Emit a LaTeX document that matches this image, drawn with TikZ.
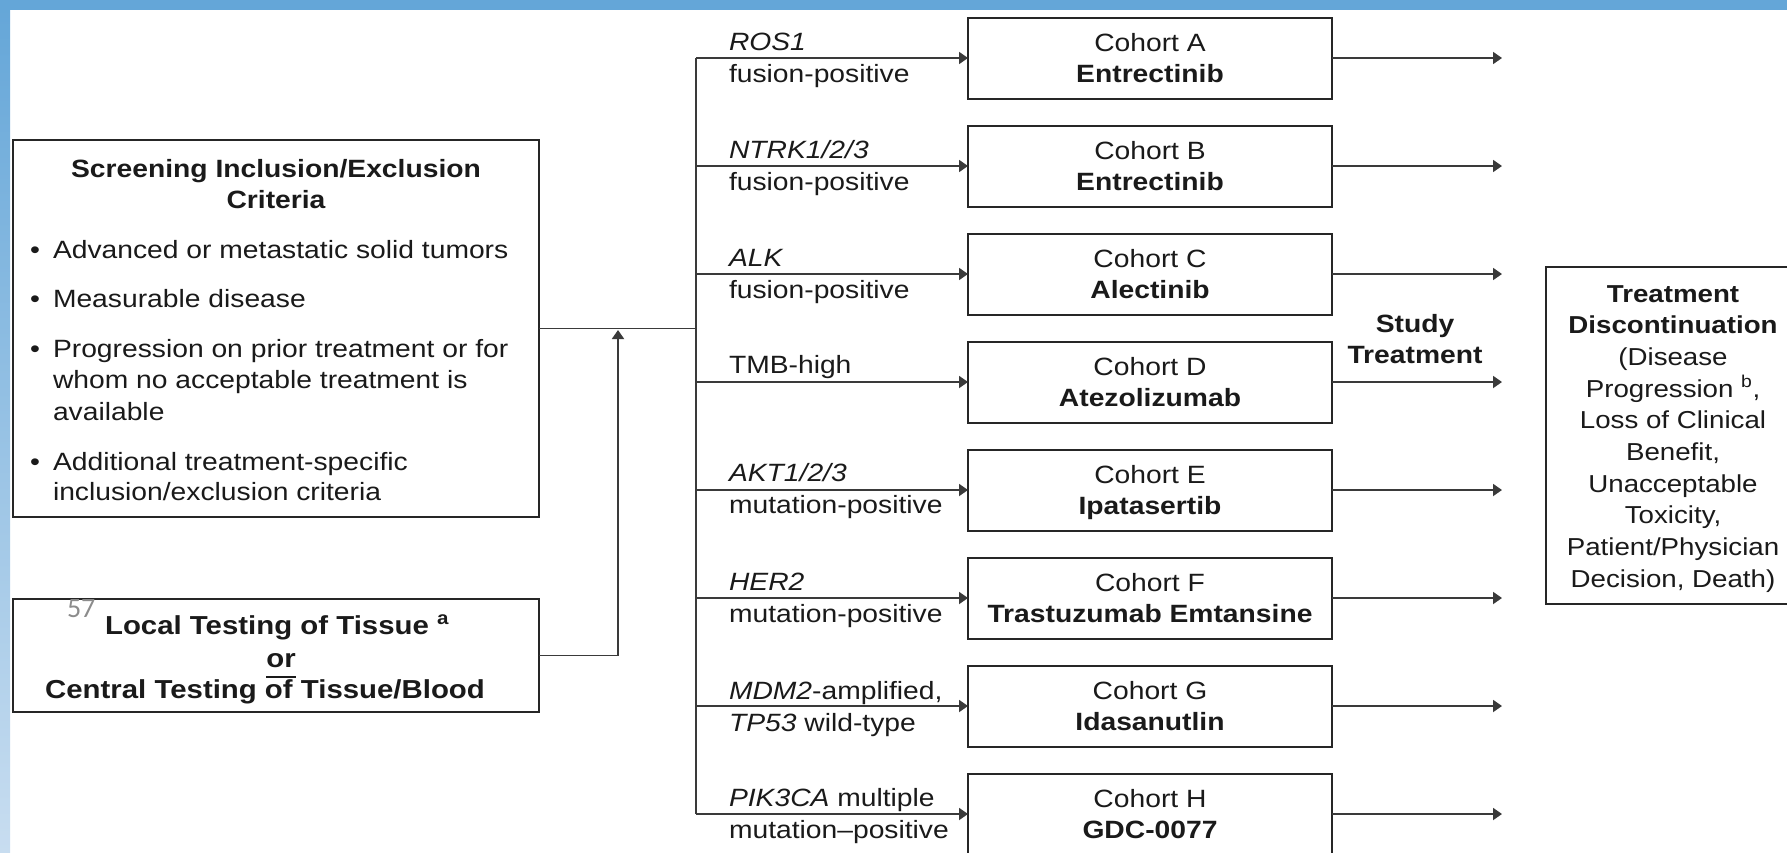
\documentclass[tikz,border=0pt]{standalone}
\usepackage{fontspec}
\setmainfont{Liberation Sans}[FakeStretch=1.13]
\newfontfamily\numfont{Carlito}
\usetikzlibrary{arrows.meta}
\definecolor{bandblue}{HTML}{64A6D8}
\definecolor{bandlight}{HTML}{C8DDF0}
\definecolor{linecol}{HTML}{3A3A3A}
\definecolor{boxcol}{HTML}{262626}
\definecolor{txt}{HTML}{1A1A1A}
\definecolor{pagenum}{HTML}{8C8C8C}
\newcommand\fsz{\fontsize{25}{31}\selectfont}
\newcommand\fszL{\fontsize{26}{31}\selectfont}
\newcommand\fszD{\fontsize{24.5}{31}\selectfont}
\newcommand\ulor[1]{\setbox0\hbox{#1}\rlap{\rule[-11pt]{\wd0}{2pt}}\box0}
\begin{document}
\begin{tikzpicture}[x=1pt,y=-1pt,
  every node/.style={inner sep=0pt,outer sep=0pt,text=txt},
  frame/.style={draw=boxcol,line width=2pt,rectangle},
  cbox/.style={frame,minimum width=364pt,minimum height=81pt,align=center,font=\fsz,text depth=0pt},
  lbl/.style={anchor=base west,font=\fsz},
  txtl/.style={anchor=base west,font=\fsz},
  txtc/.style={anchor=base,font=\fsz},
  wire/.style={draw=linecol,line width=1.8pt},
  arr/.style={wire,-{Triangle[length=9pt,width=12pt]}}]
\useasboundingbox (0,0) rectangle (1787,852);
\clip (0,0) rectangle (1787,852);
\fill[white] (0,0) rectangle (1787,852);
% slide bands
\shade[top color=bandblue,bottom color=bandlight] (0,0) rectangle (10,852);
\fill[bandblue] (0,0) rectangle (1787,10);

% screening box
\node[frame,minimum width=526pt,minimum height=377pt] (scr) at (276,328.5) {};
\node[txtc,font=\fsz\bfseries] (t1) at (276,177) {Screening Inclusion/Exclusion};
\node[txtc,font=\fsz\bfseries] (t2) at (276,208) {Criteria};
\node[txtl] (b1) at (30,258) {•};
\node[txtl] (b2) at (30,307) {•};
\node[txtl] (b3) at (30,357) {•};
\node[txtl] (b4) at (30,470) {•};
\node[txtl] (s1) at (53,258) {Advanced or metastatic solid tumors};
\node[txtl] (s2) at (53,307) {Measurable disease};
\node[txtl] (s3) at (53,357) {Progression on prior treatment or for};
\node[txtl] (s4) at (53,388) {whom no acceptable treatment is};
\node[txtl] (s5) at (53,420) {available};
\node[txtl] (s6) at (53,470) {Additional treatment-specific};
\node[txtl] (s7) at (53,500) {inclusion/exclusion criteria};

% local testing box
\node[frame,minimum width=526pt,minimum height=113pt] (loc) at (276,655.5) {};
\node[txtc,font=\fszL\bfseries] (lt1) at (277,634) {Local Testing of Tissue \textsuperscript{a}};
\node[txtc,font=\fszL\bfseries] (lt2) at (281,667) {\ulor{or}};
\node[txtc,font=\fszL\bfseries] (lt3) at (265,698) {Central Testing of Tissue/Blood};
\node[anchor=base west,text=pagenum] (pg) at (67,617) {\numfont\fontsize{28}{28}\selectfont 57};

% branching
\coordinate (j) at (696,328.5);
\coordinate (vtop) at (696,58);
\coordinate (vbot) at (696,814);
\coordinate (up) at (618,330);
\coordinate (outx) at (1502,0);
\draw[wire] (scr.east) -- (j);
\draw[wire] (vtop) -- (vbot);
\draw[arr] (loc.east) -| (up);

% cohorts
\foreach \k/\Y/\drug in {A/58/Entrectinib,B/166/Entrectinib,C/274/Alectinib,D/382/Atezolizumab,E/490/Ipatasertib,F/598/Trastuzumab Emtansine,G/706/Idasanutlin,H/814/GDC-0077}{
  \node[cbox] (c\k) at (1150,\Y) {Cohort \k\\\textbf{\drug}};
  \draw[arr] (vtop |- c\k.west) -- (c\k.west);
  \draw[arr] (c\k.east) -- (c\k.east -| outx);
}

% branch labels
\node[lbl] (la1) at (729,50) {\textit{ROS1}};
\node[lbl] (la2) at (729,82) {fusion-positive};
\node[lbl] (lb1) at (729,158) {\textit{NTRK1/2/3}};
\node[lbl] (lb2) at (729,190) {fusion-positive};
\node[lbl] (lc1) at (729,266) {\textit{ALK}};
\node[lbl] (lc2) at (729,298) {fusion-positive};
\node[lbl] (ld1) at (729,373) {TMB-high};
\node[lbl] (le1) at (729,481) {\textit{AKT1/2/3}};
\node[lbl] (le2) at (729,513) {mutation-positive};
\node[lbl] (lf1) at (729,590) {\textit{HER2}};
\node[lbl] (lf2) at (729,622) {mutation-positive};
\node[lbl] (lg1) at (729,699) {\textit{MDM2}-amplified,};
\node[lbl] (lg2) at (729,731) {\textit{TP53} wild-type};
\node[lbl] (lh1) at (729,806) {\textit{PIK3CA} multiple};
\node[lbl] (lh2) at (729,838) {mutation–positive};

% study treatment
\node[txtc,font=\fsz\bfseries] (st1) at (1415,332) {Study};
\node[txtc,font=\fsz\bfseries] (st2) at (1415,363) {Treatment};

% discontinuation box
\node[frame,minimum width=254pt,minimum height=337pt] (disc) at (1673,435.5) {};
\node[txtc,font=\fszD\bfseries] (d1) at (1673,302) {Treatment};
\node[txtc,font=\fszD\bfseries] (d2) at (1673,333) {Discontinuation};
\node[txtc,font=\fszD] (d3) at (1673,365) {(Disease};
\node[txtc,font=\fszD] (d4) at (1673,397) {Progression \textsuperscript{b},};
\node[txtc,font=\fszD] (d5) at (1673,428) {Loss of Clinical};
\node[txtc,font=\fszD] (d6) at (1673,460) {Benefit,};
\node[txtc,font=\fszD] (d7) at (1673,492) {Unacceptable};
\node[txtc,font=\fszD] (d8) at (1673,523) {Toxicity,};
\node[txtc,font=\fszD] (d9) at (1673,555) {Patient/Physician};
\node[txtc,font=\fszD] (d10) at (1673,587) {Decision, Death)};
\end{tikzpicture}
\end{document}
